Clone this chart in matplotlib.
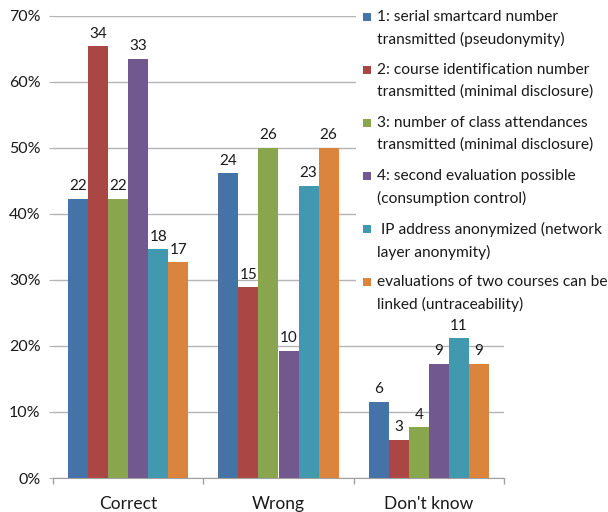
import matplotlib
matplotlib.use("Agg")
import matplotlib.pyplot as plt
from matplotlib.patches import Rectangle
from matplotlib.ticker import PercentFormatter, FixedLocator
import numpy as np

plt.rcParams['font.family'] = ['Lato', 'DejaVu Sans']

categories = ["Correct", "Wrong", "Don't know"]
series_labels = [
    "1: serial smartcard number\ntransmitted (pseudonymity)",
    "2: course identification number\ntransmitted (minimal disclosure)",
    "3: number of class attendances\ntransmitted (minimal disclosure)",
    "4: second evaluation possible\n(consumption control)",
    " IP address anonymized (network\nlayer anonymity)",
    "evaluations of two courses can be\nlinked (untraceability)",
]
counts = [
    [22, 24, 6],
    [34, 15, 3],
    [22, 26, 4],
    [33, 10, 9],
    [18, 23, 11],
    [17, 26, 9],
]
respondents = 52
colors = ["#4572A7", "#AA4643", "#89A54E", "#71588F", "#4198AF", "#DB843D"]

W, H = 608, 512
fig = plt.figure(figsize=(W / 100, H / 100), dpi=100)
ax = fig.add_axes([53 / W, 1 - 478 / H, (504 - 53) / W, (478 - 15.7) / H])

x = np.arange(len(categories))
bw = 0.8 / len(counts)
for i, (c, col) in enumerate(zip(counts, colors)):
    c = np.array(c)
    share = c / respondents * 100
    pos = x + (i - (len(counts) - 1) / 2) * bw
    ax.bar(pos, share, width=bw, color=col, edgecolor='none', zorder=2)
    for px, s, n in zip(pos, share, c):
        ax.annotate(str(n), (px, s), xytext=(0, 4), textcoords='offset points',
                    ha='center', va='bottom', fontsize=11, color='#1a1a1a', zorder=3)

ax.set_xlim(-0.5, len(categories) - 0.5)
ax.set_ylim(0, 70)
ax.yaxis.set_major_locator(FixedLocator(np.arange(0, 71, 10)))
ax.yaxis.set_major_formatter(PercentFormatter(decimals=0))
ax.grid(axis='y', color='#b4b4b4', linewidth=1, zorder=0)
ax.set_axisbelow(True)

ax.set_xticks(x)
ax.set_xticklabels(categories, fontsize=12.5, color='#1a1a1a')
ax.set_xticks(np.arange(-0.5, len(categories)), minor=True)
ax.tick_params(axis='x', which='major', length=0, pad=13)
ax.tick_params(axis='x', which='minor', length=4, color='#a0a0a0', width=1)
ax.tick_params(axis='y', length=3, color='#b4b4b4', labelsize=11.5,
               labelcolor='#1a1a1a', pad=6)

for s in ['top', 'right', 'left']:
    ax.spines[s].set_visible(False)
ax.spines['bottom'].set_color('#a0a0a0')

# legend panel
def fx(px):
    return px / W

def fy(py):
    return 1 - py / H

fig.patches.append(Rectangle((fx(356), fy(314)), fx(W - 356), 314 / H,
                             transform=fig.transFigure, facecolor='white',
                             edgecolor='none', zorder=5))
for k, (lab, col) in enumerate(zip(series_labels, colors)):
    yc = 17 + k * 53
    fig.patches.append(Rectangle((fx(363), fy(yc + 4)), 8 / W, 8 / H,
                                 transform=fig.transFigure, facecolor=col,
                                 edgecolor='none', zorder=6))
    fig.text(fx(377), fy(yc - 7), lab, fontsize=11.2, color='#1a1a1a',
             ha='left', va='top', linespacing=1.65, zorder=7)

fig.savefig("out.png", dpi=100)
